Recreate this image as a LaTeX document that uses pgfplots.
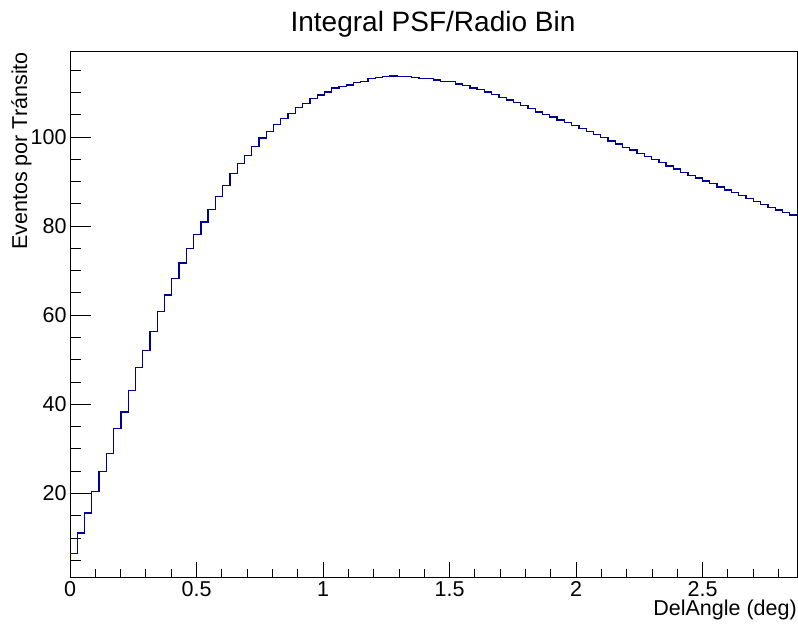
\documentclass[border=0pt]{standalone}
\usepackage{pgfplots}
\pgfplotsset{compat=1.18}
\usepackage{pgfplotstable}
\usepackage{fontspec}
\setmainfont{Liberation Sans}
\definecolor{histblue}{RGB}{0,0,153}
\pgfplotstableread{
i y
0 6.6
1 11.1
2 15.6
3 20.45
4 24.9
5 28.9
6 34.5
7 38.25
8 43.05
9 48.3
10 52.1
11 56.4
12 60.9
13 64.55
14 68.2
15 71.7
16 75.05
17 78.1
18 80.9
19 83.8
20 86.6
21 89.1
22 91.8
23 94.1
24 95.9
25 97.9
26 99.8
27 101.2
28 102.8
29 104.2
30 105.3
31 106.6
32 107.5
33 108.6
34 109.4
35 110.1
36 111.0
37 111.3
38 111.7
39 112.2
40 112.5
41 113.1
42 113.4
43 113.6
44 113.7
45 113.6
46 113.6
47 113.4
48 113.2
49 113.1
50 112.8
51 112.5
52 112.4
53 111.9
54 111.5
55 111.0
56 110.6
57 110.1
58 109.5
59 108.9
60 108.3
61 107.7
62 107.1
63 106.4
64 105.6
65 105.1
66 104.5
67 103.8
68 103.2
69 102.6
70 101.9
71 101.2
72 100.5
73 99.9
74 99.1
75 98.4
76 97.7
77 97.1
78 96.3
79 95.6
80 94.9
81 94.2
82 93.5
83 92.8
84 92.1
85 91.4
86 90.8
87 90.1
88 89.5
89 88.8
90 88.1
91 87.5
92 86.9
93 86.2
94 85.5
95 84.9
96 84.2
97 83.6
98 83.1
99 82.5
100 82.5
}\histdata
\begin{document}
\begin{tikzpicture}
\useasboundingbox (0pt,0pt) rectangle (798pt,628pt);
\begin{axis}[
  at={(70pt,51pt)}, anchor=south west,
  scale only axis, width=727pt, height=526pt,
  xmin=0, xmax=2.873, ymin=1.25, ymax=119.3,
  axis line style={black, line width=0.9pt},
  tick pos=left, tick align=inside,
  xtick={0,0.5,1,1.5,2,2.5},
  xticklabels={0,0.5,1,1.5,2,2.5},
  minor xtick={0.1,0.2,0.3,0.4,0.6,0.7,0.8,0.9,1.1,1.2,1.3,1.4,1.6,1.7,1.8,1.9,2.1,2.2,2.3,2.4,2.6,2.7,2.8},
  ytick={20,40,60,80,100},
  minor ytick={5,10,15,25,30,35,45,50,55,65,70,75,85,90,95,105,110,115},
  xtick style={black, line width=0.9pt, /pgfplots/major tick length=15pt, /pgfplots/minor tick length=7.5pt},
  ytick style={black, line width=0.9pt, /pgfplots/major tick length=21pt, /pgfplots/minor tick length=11pt},
  /pgf/number format/assume math mode=true,
  ticklabel style={font=\fontsize{21.5}{24}\selectfont},
  xticklabel shift=1pt,
  yticklabel shift=0pt,
  clip=true,
]
\addplot[const plot mark left, color=histblue, line width=1.3pt, mark=none]
  table[x expr=\thisrow{i}*0.02873, y=y] {\histdata};
\end{axis}
\node[font=\fontsize{28}{32}\selectfont, anchor=base] at (433pt,596pt) {Integral PSF/Radio Bin};
\node[font=\fontsize{21.5}{24}\selectfont, rotate=90, anchor=base east, inner sep=0pt] at (27pt,576pt) {Eventos por Tránsito};
\node[font=\fontsize{21.5}{24}\selectfont, anchor=base east, inner sep=0pt] at (797pt,12pt) {DelAngle (deg)};
\end{tikzpicture}
\end{document}
